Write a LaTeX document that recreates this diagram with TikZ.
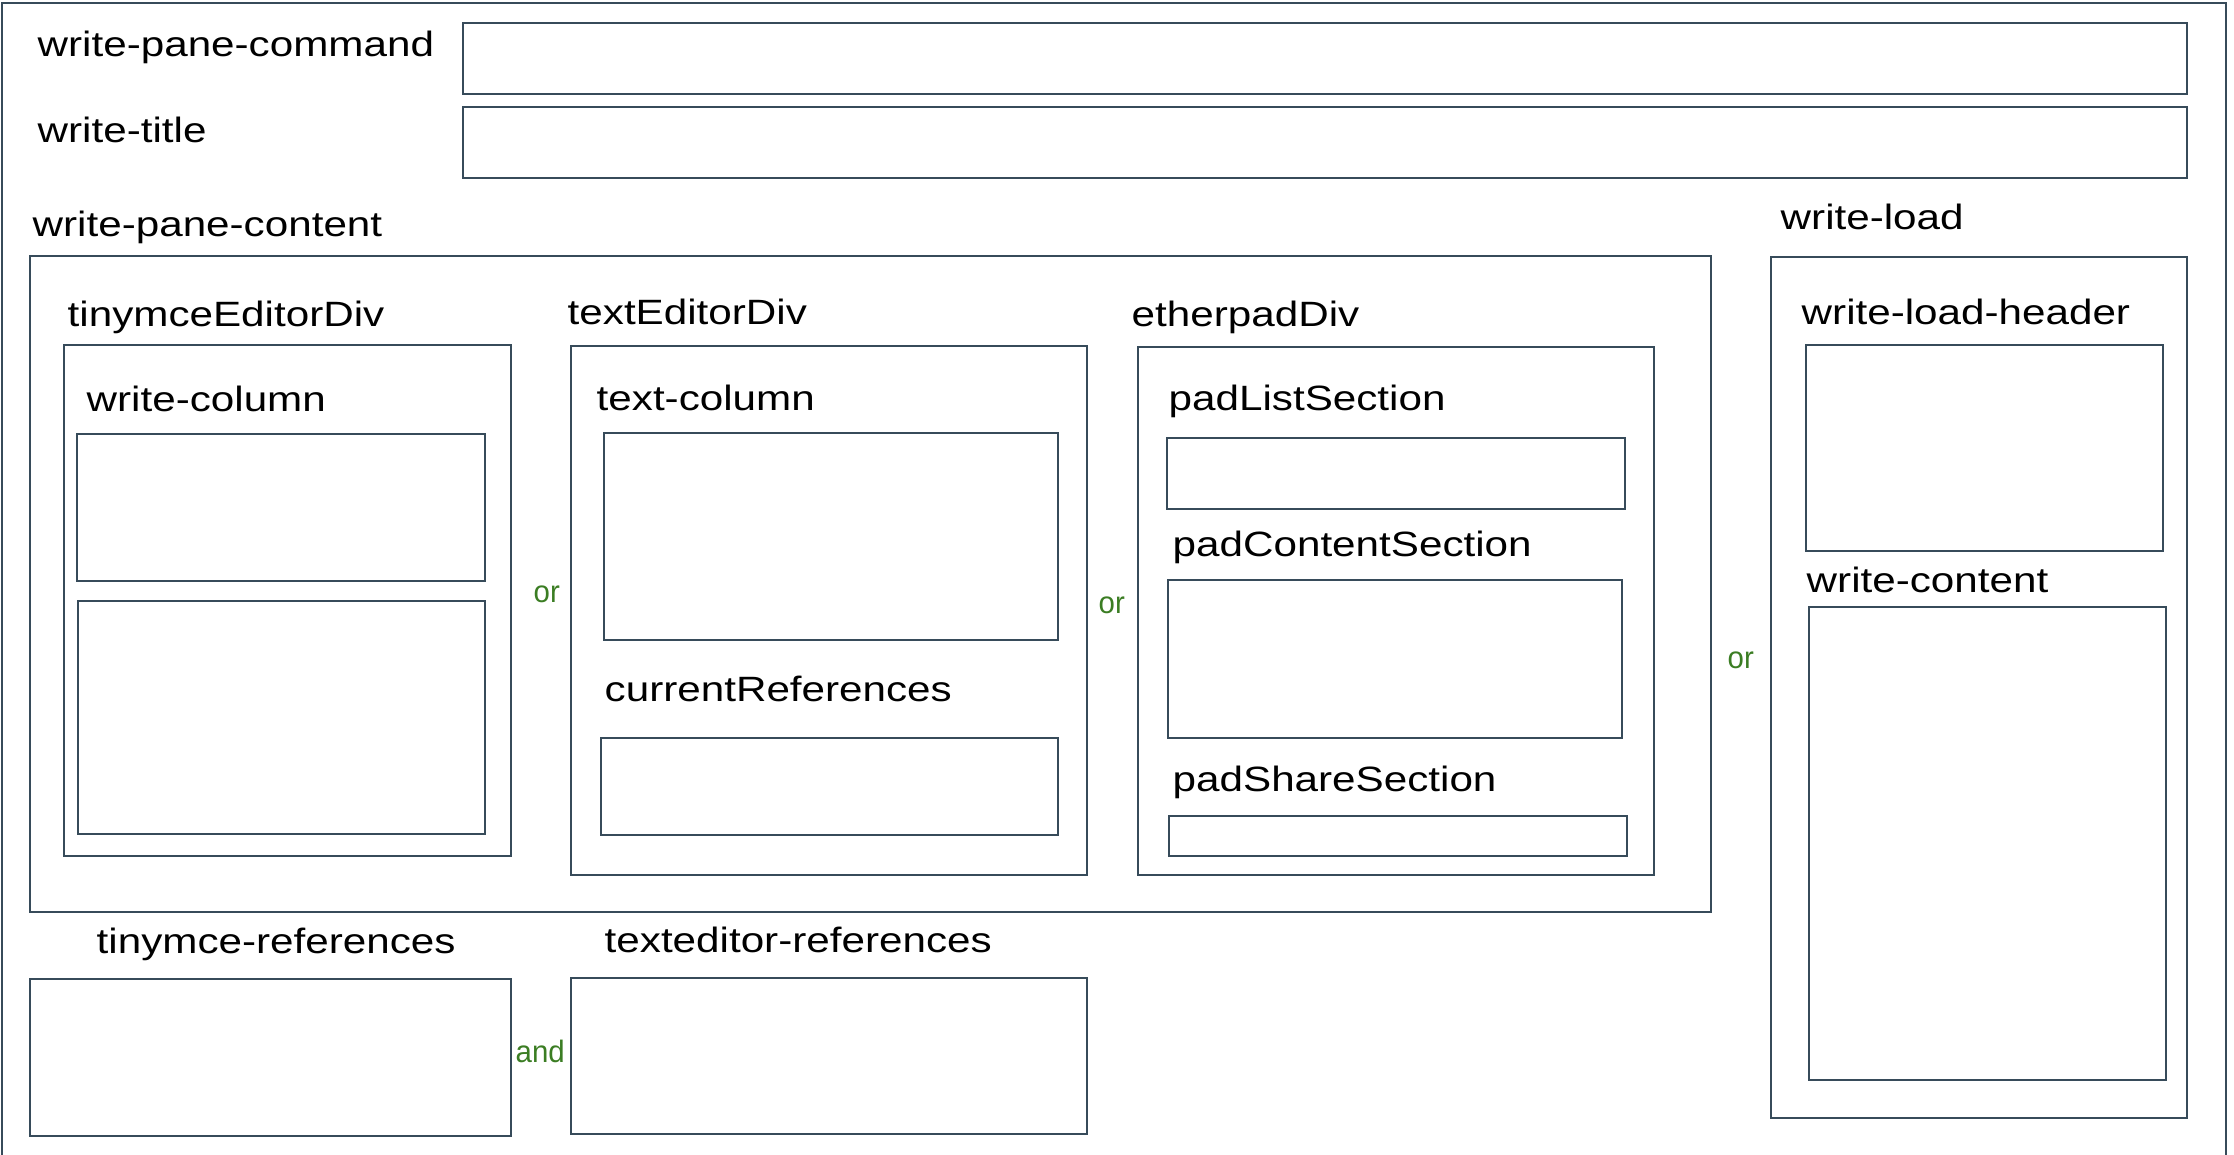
\documentclass[tikz,border=0pt]{standalone}
\usepackage{fontspec}
\setmainfont{Liberation Sans}[FakeStretch=1.2]
\newfontfamily\choicefont{Liberation Sans}[FakeStretch=0.95]
\usepackage{tikz}
\definecolor{BoxColor}{RGB}{55,75,90}
\definecolor{OrColor}{RGB}{59,125,35}
\tikzset{box/.style={draw=BoxColor,line width=0.5pt},
	lbl/.style={anchor=base west,inner sep=0pt,font=\fontsize{10}{12}\selectfont},
	choice/.style={anchor=base west,inner sep=0pt,text=OrColor,font=\choicefont\fontsize{8.8}{10}\selectfont}}

\begin{document}
\begin{tikzpicture}[x=0.01cm,y=-0.01cm]
	\useasboundingbox (0,0) rectangle (2234,1155);
	\draw[box] (2,1155) |- (2226,3) -- (2226,1155);
	\node[lbl] (paneCommandLbl) at (37,57) {write-pane-command};
	\node[lbl] (titleLbl) at (37,143) {write-title};
	\draw[box] (463,23) rectangle (2187,94);
	\draw[box] (463,107) rectangle (2187,178);
	\node[lbl] (paneContentLbl) at (32,237) {write-pane-content};
	\draw[box] (30,256) rectangle (1711,912);
	\node[lbl] (tinymceLbl) at (67,327) {tinymceEditorDiv};
	\draw[box] (64,345) rectangle (511,856);
	\node[lbl] (writeColumnLbl) at (86,412) {write-column};
	\draw[box] (77,434) rectangle (485,581);
	\draw[box] (78,601) rectangle (485,834);
	\node[choice] (orA) at (533,602) {or};
	\node[lbl] (textEditorLbl) at (567,325) {textEditorDiv};
	\draw[box] (571,346) rectangle (1087,875);
	\node[lbl] (textColumnLbl) at (596,410) {text-column};
	\draw[box] (604,433) rectangle (1058,640);
	\node[lbl] (currentRefLbl) at (604,701) {currentReferences};
	\draw[box] (601,738) rectangle (1058,835);
	\node[choice] (orB) at (1098,613) {or};
	\node[lbl] (etherpadLbl) at (1131,327) {etherpadDiv};
	\draw[box] (1138,347) rectangle (1654,875);
	\node[lbl] (padListLbl) at (1168,410) {padListSection};
	\draw[box] (1167,438) rectangle (1625,509);
	\node[lbl] (padContentLbl) at (1172,556) {padContentSection};
	\draw[box] (1168,580) rectangle (1622,738);
	\node[lbl] (padShareLbl) at (1172,791) {padShareSection};
	\draw[box] (1169,816) rectangle (1627,856);
	\node[choice] (orC) at (1727,668) {or};
	\node[lbl] (writeLoadLbl) at (1780,230) {write-load};
	\draw[box] (1771,257) rectangle (2187,1118);
	\node[lbl] (loadHeaderLbl) at (1801,325) {write-load-header};
	\draw[box] (1806,345) rectangle (2163,551);
	\node[lbl] (writeContentLbl) at (1806,592) {write-content};
	\draw[box] (1809,607) rectangle (2166,1080);
	\node[lbl] (tinymceRefLbl) at (96,953) {tinymce-references};
	\draw[box] (30,979) rectangle (511,1136);
	\node[choice] (andA) at (515,1062) {and};
	\node[lbl] (texteditorRefLbl) at (604,952) {texteditor-references};
	\draw[box] (571,978) rectangle (1087,1134);
\end{tikzpicture}
\end{document}
